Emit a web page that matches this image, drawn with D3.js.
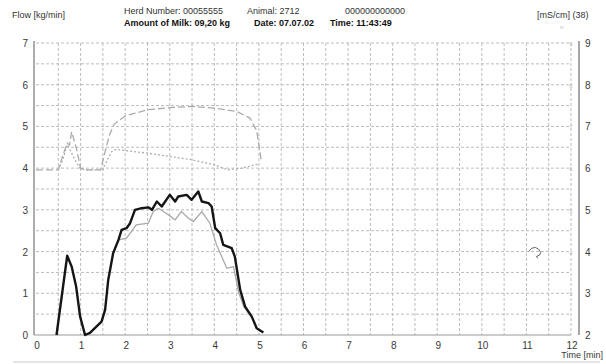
<!DOCTYPE html>
<html><head><meta charset="utf-8">
<script src="https://cdn.jsdelivr.net/npm/d3@7"></script>
<style>body{margin:0;background:#fff}svg{display:block;font-family:"Liberation Sans",Arial,sans-serif}</style>
</head><body><svg id="c" width="606" height="364"></svg>
<script>
// Data
const flowTime = [0.46,0.70,0.80,0.90,0.99,1.10,1.21,1.47,1.55,1.62,1.73,1.85,1.92,2.03,2.11,2.22,2.37,2.52,2.60,2.71,2.82,3.00,3.12,3.19,3.38,3.49,3.64,3.72,3.87,3.94,4.02,4.13,4.20,4.39,4.46,4.58,4.69,4.84,4.95,5.10];
const flowMain = [0,1.90,1.64,1.16,0.44,0.0,0.05,0.32,0.60,1.32,1.96,2.28,2.52,2.56,2.68,3.00,3.04,3.06,3.00,3.20,3.08,3.36,3.20,3.32,3.36,3.24,3.44,3.20,3.16,3.08,2.56,2.44,2.16,2.08,1.88,1.08,0.68,0.44,0.16,0.06];
const flow2Time = [1.85,2.03,2.25,2.52,2.63,2.74,2.86,2.97,3.12,3.26,3.42,3.53,3.72,3.90,4.05,4.28,4.43,4.54,4.66,4.84];
const flow2 = [2.28,2.32,2.64,2.68,2.96,3.04,2.96,2.88,2.76,2.96,2.80,2.72,2.96,2.68,2.16,1.60,1.64,1.04,0.68,0.42];
const cond1Time = [0,0.5,0.6,0.7,0.75,0.8,0.9,1.0,1.1,1.45,1.55,1.65,1.75,2.0,2.5,3.0,3.5,4.0,4.5,4.8,4.95,5.05];
const cond1 = [5.96,5.96,6.3,6.6,6.55,6.87,6.5,6.0,5.96,5.96,6.4,6.8,7.05,7.25,7.4,7.45,7.48,7.44,7.36,7.2,6.9,6.2];
const cond2Time = [0.5,0.6,0.7,0.78,0.9,1.0,1.1,1.5,1.6,1.7,1.8,2.0,2.5,3.0,3.5,4.0,4.3,4.6,5.0];
const cond2 = [5.96,6.2,6.56,6.4,6.15,5.98,5.96,5.96,6.2,6.4,6.45,6.42,6.36,6.28,6.2,6.08,5.96,6.0,6.1];
const squiggleT = [11.05,11.12,11.2,11.28,11.32,11.3,11.22,11.26];
const squiggleV = [4.0,4.08,4.1,4.05,3.98,3.92,3.88,3.84];
const xTicks = [0,1,2,3,4,5,6,7,8,9,10,11,12];
const yTicks = [0,1,2,3,4,5,6,7];
const yRTicks = [2,3,4,5,6,7,8,9];

const svg = d3.select("#c");
const x = d3.scaleLinear().domain([0,12]).range([36,571]);
const y = d3.scaleLinear().domain([0,7]).range([335,43]);
const yR = d3.scaleLinear().domain([2,9]).range([335,43]);

// header
const hdr = svg.append("g").attr("font-size",9).attr("fill","#333");
hdr.append("text").attr("x",12).attr("y",18).text("Flow [kg/min]");
hdr.append("text").attr("x",124).attr("y",14).text("Herd Number: 00055555");
hdr.append("text").attr("x",247).attr("y",14).text("Animal: 2712");
hdr.append("text").attr("x",345).attr("y",14).text("000000000000");
hdr.append("text").attr("x",537).attr("y",18).text("[mS/cm] (38)");
const b = svg.append("g").attr("font-size",9).attr("font-weight","bold").attr("fill","#111");
b.append("text").attr("x",124).attr("y",26).text("Amount of Milk: 09,20 kg");
b.append("text").attr("x",254).attr("y",26).text("Date: 07.07.02");
b.append("text").attr("x",330).attr("y",26).text("Time: 11:43:49");
svg.append("text").attr("x",560).attr("y",29).attr("font-size",6).attr("fill","#bbb").text("n");

// grid
const g = svg.append("g").attr("stroke","#b5b5b5").attr("stroke-width",0.9).attr("stroke-dasharray","3,2");
d3.range(1,25).forEach(i=>{const t=i/2; g.append("line").attr("x1",x(t)).attr("x2",x(t)).attr("y1",y(7)).attr("y2",y(0));});
d3.range(1,15).forEach(i=>{const v=i/2; g.append("line").attr("x1",x(0)).attr("x2",x(12)).attr("y1",y(v)).attr("y2",y(v));});

// axes lines
svg.append("line").attr("x1",34).attr("x2",34).attr("y1",y(7)-2).attr("y2",y(0)).attr("stroke","#777").attr("stroke-width",1.2);
svg.append("line").attr("x1",34).attr("x2",x(12)).attr("y1",y(0)).attr("y2",y(0)).attr("stroke","#999").attr("stroke-width",1);
svg.append("line").attr("x1",579).attr("x2",579).attr("y1",y(7)-2).attr("y2",y(0)).attr("stroke","#888").attr("stroke-width",1.5);
svg.append("line").attr("x1",13).attr("x2",600).attr("y1",362).attr("y2",362).attr("stroke","#ddd").attr("stroke-width",1.5);

// tick labels
const tl = svg.append("g").attr("font-size",10).attr("fill","#3a3a3a");
xTicks.forEach(t=>tl.append("text").attr("x",x(t)+1).attr("y",349).attr("text-anchor","middle").text(t));
yTicks.forEach(v=>tl.append("text").attr("x",28).attr("y",y(v)+4).attr("text-anchor","end").text(v));
yRTicks.forEach(v=>tl.append("text").attr("x",585).attr("y",yR(v)+4).text(v));
yRTicks.slice(1).forEach(v=>svg.append("text").attr("x",571).attr("y",yR(v)+3).attr("font-size",6).attr("fill","#bbb").attr("text-anchor","middle").text(v));
tl.append("text").attr("x",603).attr("y",358).attr("text-anchor","end").attr("font-size",9).text("Time [min]");

// lines
const lineL = d3.line().x(d=>x(d[0])).y(d=>y(d[1]));
const lineR = d3.line().x(d=>x(d[0])).y(d=>yR(d[1]));
svg.append("path").datum(cond1Time.map((t,i)=>[t,cond1[i]])).attr("d",lineR).attr("fill","none").attr("stroke","#aaa").attr("stroke-width",1.3).attr("stroke-dasharray","7,3");
svg.append("path").datum(cond2Time.map((t,i)=>[t,cond2[i]])).attr("d",lineR).attr("fill","none").attr("stroke","#b0b0b0").attr("stroke-width",1.3).attr("stroke-dasharray","2,2");
svg.append("path").datum(flow2Time.map((t,i)=>[t,flow2[i]])).attr("d",lineL).attr("fill","none").attr("stroke","#aaa").attr("stroke-width",1.3);
svg.append("path").datum(flowTime.map((t,i)=>[t,flowMain[i]])).attr("d",lineL).attr("fill","none").attr("stroke","#151515").attr("stroke-width",2.4).attr("stroke-linejoin","round");
svg.append("path").datum(squiggleT.map((t,i)=>[t,squiggleV[i]])).attr("d",lineR).attr("fill","none").attr("stroke","#666").attr("stroke-width",1);
</script></body></html>
